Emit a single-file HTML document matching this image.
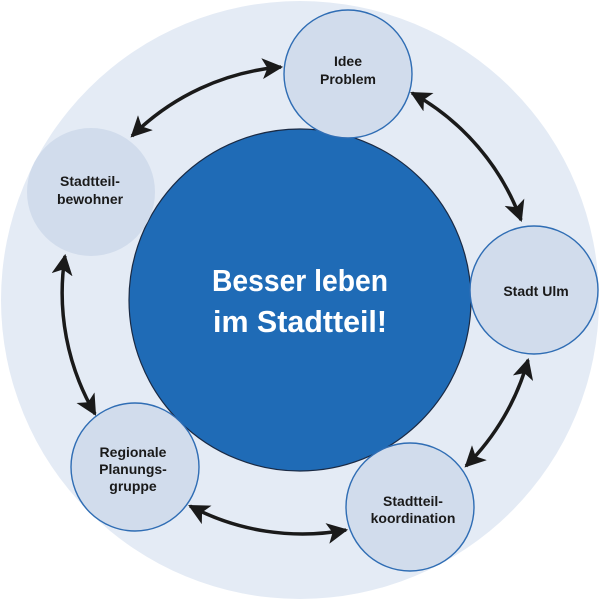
<!DOCTYPE html>
<html><head><meta charset="utf-8"><style>
html,body{margin:0;padding:0;background:#fff;}
svg{display:block;}
text{font-family:"Liberation Sans",sans-serif;font-weight:bold;text-anchor:middle;}
.s{font-size:14px;fill:#1a1a1a;}
.b{font-size:31px;fill:#fff;}
</style></head><body>
<svg width="600" height="600" viewBox="0 0 600 600" xmlns="http://www.w3.org/2000/svg">
<defs>
<marker id="a" viewBox="0 0 10 10" refX="9" refY="5" markerWidth="6" markerHeight="6" orient="auto-start-reverse" markerUnits="strokeWidth">
<path d="M0,0 L10,5 L0,10 L2.5,5 z" fill="#1a1a1a"/>
</marker>
</defs>
<circle cx="300" cy="300" r="299" fill="#e4ebf5"/>
<circle cx="300" cy="300" r="171" fill="#1f6bb6" stroke="#1a2a44" stroke-width="1.2"/>
<g fill="none" stroke="#1a1a1a" stroke-width="3.5" marker-start="url(#a)" marker-end="url(#a)">
<path d="M281,67 A240,240 0 0 0 132,136"/>
<path d="M412,93 A240,240 0 0 1 521,220"/>
<path d="M528,360 A240,240 0 0 1 466,466"/>
<path d="M346,530 A240,240 0 0 1 190,506"/>
<path d="M65,256 A240,240 0 0 0 95,414"/>
</g>
<g fill="#d1dcec" stroke="#2f6db4" stroke-width="1.4">
<circle cx="348" cy="74" r="64"/>
<circle cx="534" cy="290" r="64"/>
<circle cx="410" cy="507" r="64"/>
<circle cx="135" cy="467" r="64"/>
</g>
<circle cx="91" cy="192" r="64" fill="#d1dcec"/>
<text class="s" x="348" y="66">Idee</text>
<text class="s" x="348" y="84">Problem</text>
<text class="s" x="90" y="186">Stadtteil-</text>
<text class="s" x="90" y="204">bewohner</text>
<text class="s" x="536" y="296">Stadt Ulm</text>
<text class="s" x="413" y="506">Stadtteil-</text>
<text class="s" x="413" y="523">koordination</text>
<text class="s" x="133" y="457">Regionale</text>
<text class="s" x="133" y="474">Planungs-</text>
<text class="s" x="133" y="491">gruppe</text>
<text class="b" x="300" y="291" textLength="176" lengthAdjust="spacingAndGlyphs">Besser leben</text>
<text class="b" x="300" y="332" textLength="174" lengthAdjust="spacingAndGlyphs">im Stadtteil!</text>
</svg>
</body></html>
